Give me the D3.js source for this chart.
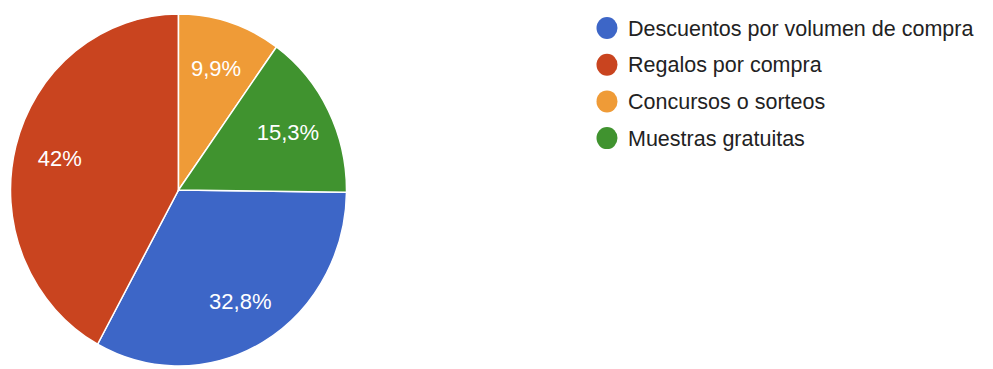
<!DOCTYPE html>
<html>
<head>
<meta charset="utf-8">
<script src="https://cdn.jsdelivr.net/npm/d3@7"></script>
<style>
  html, body { margin: 0; padding: 0; background: #fff; }
  svg { display: block; font-family: "Liberation Sans", Arial, sans-serif; }
</style>
</head>
<body>
<svg id="chart"></svg>
<script>
const categories = ['Descuentos por volumen de compra', 'Regalos por compra', 'Concursos o sorteos', 'Muestras gratuitas'];
const values = [32.8, 42, 9.9, 15.3];
const labels = ['32,8%', '42%', '9,9%', '15,3%'];
const colors = ['#3d66c7', '#c9441f', '#ef9b37', '#40932f'];

const width = 993, height = 369;
const cx = 178.5, cy = 190, radius = 168;
const stretchY = 176 / 168; // the source screenshot is a bit taller than wide

const svg = d3.select('#chart')
    .attr('width', width)
    .attr('height', height);

// Google Forms starts at 12 o'clock with the smaller slices first; rotate so blue begins at 3 o'clock
const offset = (values[2] + values[3]) / 100 * 2 * Math.PI;
const pie = d3.pie()
    .sort(null)
    .value(d => d)
    .startAngle(offset)
    .endAngle(offset + 2 * Math.PI);

const arcs = pie(values);
const arc = d3.arc().innerRadius(0).outerRadius(radius);
const labelArc = d3.arc().innerRadius(radius * 0.73).outerRadius(radius * 0.73);

const g = svg.append('g').attr('transform', `translate(${cx},${cy})`);

g.append('g')
    .attr('transform', `scale(1,${stretchY})`)
    .selectAll('path.slice')
    .data(arcs)
    .enter().append('path')
    .attr('class', 'slice')
    .attr('d', arc)
    .attr('fill', (d, i) => colors[i])
    .attr('stroke', '#fff')
    .attr('stroke-width', 1.5)
    .attr('vector-effect', 'non-scaling-stroke');

g.selectAll('text.pct')
    .data(arcs)
    .enter().append('text')
    .attr('class', 'pct')
    .attr('transform', d => {
        const [x, y] = labelArc.centroid(d);
        return `translate(${x},${y * stretchY})`;
    })
    .attr('text-anchor', 'middle')
    .attr('dy', '0.36em')
    .attr('fill', '#fff')
    .attr('font-size', 22)
    .text((d, i) => labels[i]);

// legend
const legend = svg.append('g').attr('transform', 'translate(607,28)');
const item = legend.selectAll('g.item')
    .data(categories)
    .enter().append('g')
    .attr('class', 'item')
    .attr('transform', (d, i) => `translate(0,${i * 36.7})`);

item.append('ellipse')
    .attr('rx', 10.5)
    .attr('ry', 11)
    .attr('fill', (d, i) => colors[i]);

item.append('text')
    .attr('x', 21)
    .attr('dy', '0.36em')
    .attr('fill', '#222')
    .attr('font-size', 21.5)
    .text(d => d);
</script>
</body>
</html>
